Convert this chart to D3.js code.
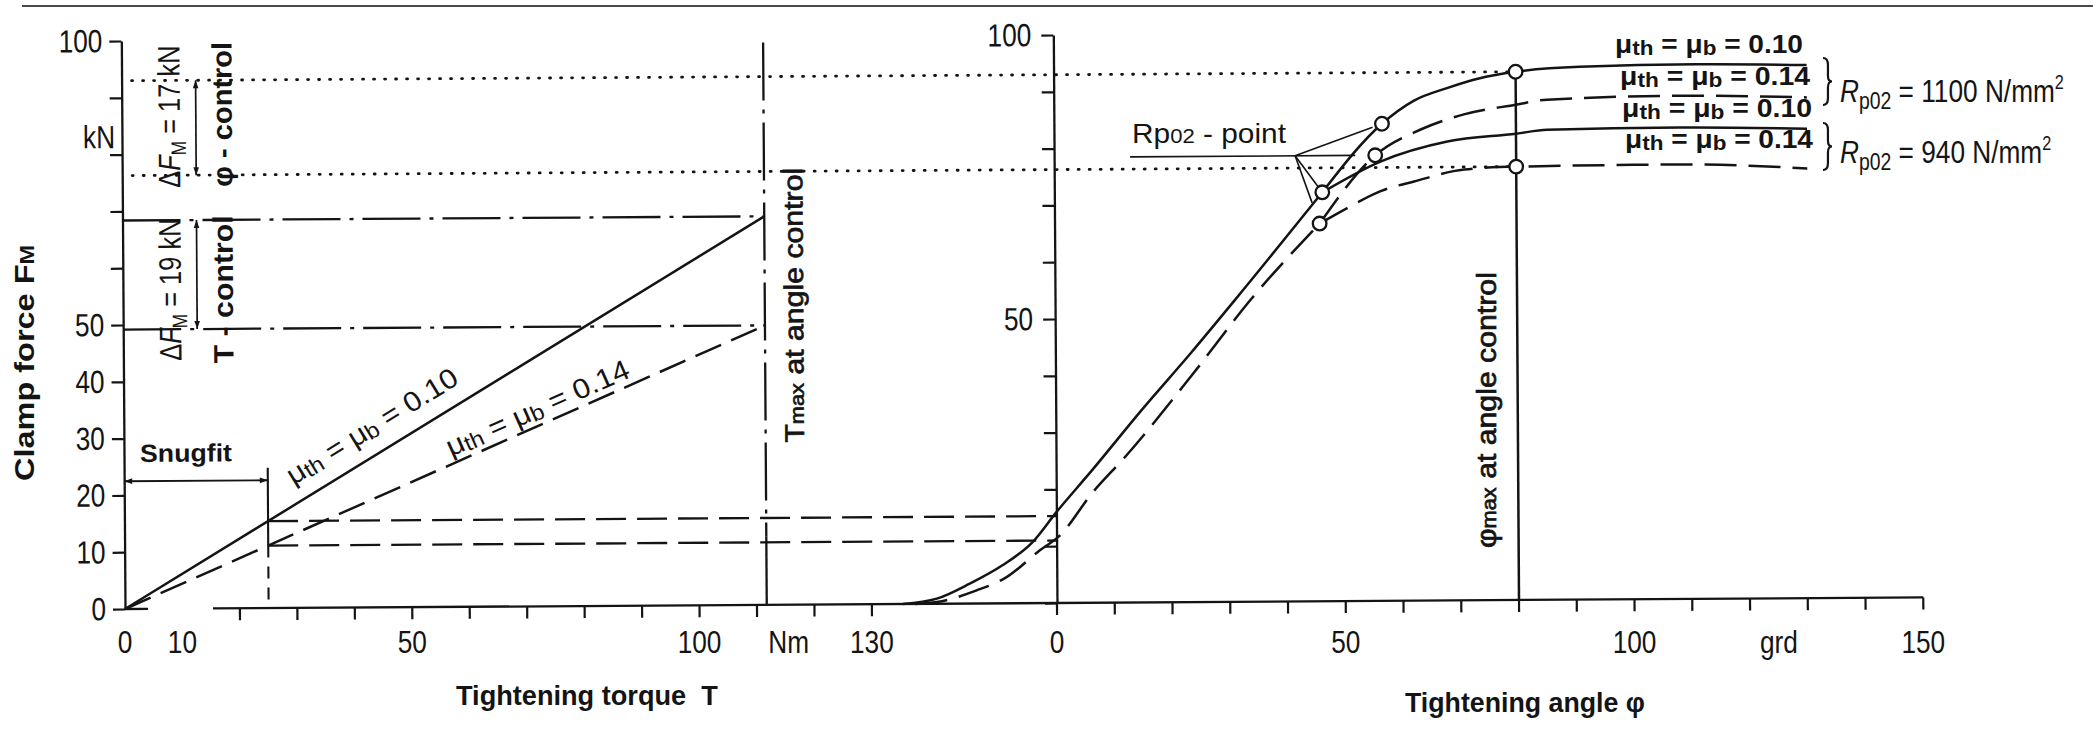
<!DOCTYPE html>
<html>
<head>
<meta charset="utf-8">
<title>Clamp force vs. tightening torque and tightening angle</title>
<script src="https://cdn.jsdelivr.net/npm/d3@7/dist/d3.min.js"></script>
<style>
  html, body { margin: 0; padding: 0; background: #fff; }
  svg { display: block; }
</style>
</head>
<body>
<svg id="chart" width="2093" height="729"></svg>
<script>
// ---------------- data ----------------
const forceTicks       = [0, 10, 20, 30, 40, 50, 60, 70, 80, 90, 100];
const forceLabelsLeft  = [0, 10, 20, 30, 40, 50, 100];
const forceLabelsRight = [50, 100];
const torqueTicks      = [20, 30, 40, 50, 60, 70, 80, 90, 100, 110, 120, 130];
const torqueLabels     = [["0", 0], ["10", 10], ["50", 50], ["100", 100], ["Nm", 115.5], ["130", 130]];
const angleTicks       = [0, 10, 20, 30, 40, 50, 60, 70, 80, 90, 100, 110, 120, 130, 140, 150];
const angleLabels      = [["0", 0], ["50", 50], ["100", 100], ["grd", 125], ["150", 150]];

const snugfitTorque   = 25;      // Nm
const tMaxTorque      = 111.7;   // Nm
const phiMaxAngle     = 80;      // grd
const torqueLine010   = [[0, 0], [111.7, 68.4]];
const torqueLine014   = [[0, 0], [111.7, 49.2]];
const snugfitForce    = [15.3, 11.0];   // kN at snug fit, mu = 0.10 / 0.14
const tControlForce   = [68.4, 49.2];   // kN at T max
const phiControlForce = [93.0, 76.3];   // kN at phi max

// angle-controlled tightening: [angle grd, clamp force kN]
const riseSolid  = [[-26.7, 0], [-20.8, 0.9], [-15.1, 3.5], [-9.4, 6.7], [-4.2, 10.7], [0, 16.0],
                    [6.2, 23.3], [14.9, 33.9], [23.5, 43.9], [31.2, 53.2], [46.4, 72.0]];
const riseDashed = [[-24.5, 0], [-20.8, 0.3], [-13.9, 2.3], [-8.7, 4.6], [-2.9, 9.3], [0.5, 11.8],
                    [6.2, 19.3], [12.1, 25.8], [23.5, 39.8], [33.9, 53.2], [45.9, 66.5]];
const yield1100Solid  = [[46.4, 72.0], [56.8, 84.0], [62.3, 88.0], [68.1, 90.2], [73.8, 91.9],
                         [80, 93.0], [91.1, 93.8], [111.3, 94.1], [130.4, 93.85]];
const yield1100Dashed = [[45.9, 66.5], [55.6, 78.45], [63.4, 82.9], [71.0, 85.55], [80, 87.2],
                         [85.4, 88.05], [108.4, 88.6], [130.4, 88.15]];
const yield940Solid   = [[46.4, 72.0], [56.5, 77.35], [68.1, 80.8], [80, 82.1], [85.4, 82.75],
                         [108.4, 83.0], [130.4, 82.65]];
const yield940Dashed  = [[45.9, 66.5], [50.7, 69.2], [56.5, 72.15], [62.3, 73.8], [71.0, 75.85],
                         [80, 76.3], [108.4, 76.5], [130.4, 75.65]];
const rp02Points   = [[56.8, 84.0], [55.6, 78.45], [46.4, 72.0], [45.9, 66.5]];
const phiMaxPoints = [[80, 93.0], [80, 76.3]];

const frictionLabels = ["0.10", "0.14", "0.10", "0.14"];
const yieldLabels    = ["1100", "940"];

// ---------------- setup ----------------
const INK = "#141414";
const SANS = "'Liberation Sans', Arial, Helvetica, sans-serif";
const NARROW = 0.82;   // horizontal squeeze for the condensed lettering
const svg = d3.select("#chart");

const y  = d3.scaleLinear().domain([0, 100]).range([609, 41]);
const xT = d3.scaleLinear().domain([0, 130]).range([125, 871.9]);
const xA = d3.scaleLinear().domain([0, 150]).range([1057, 1923.3]);

svg.append("defs").append("marker")
  .attr("id", "arrow").attr("viewBox", "0 0 10 10")
  .attr("refX", 10).attr("refY", 5)
  .attr("markerUnits", "userSpaceOnUse")
  .attr("markerWidth", 11).attr("markerHeight", 8)
  .attr("orient", "auto-start-reverse")
  .append("path").attr("d", "M0,1.5 L10,5 L0,8.5 Z").attr("fill", INK);

function addText(parent, o) {
  const t = parent.append("text")
    .attr("font-family", SANS)
    .attr("font-size", o.size)
    .attr("font-weight", o.weight || "normal")
    .attr("text-anchor", o.anchor || "start")
    .attr("fill", INK);
  if (o.halo) t.attr("stroke", INK).attr("stroke-width", o.halo);
  const parts = Array.isArray(o.text) ? o.text : [{ t: o.text }];
  parts.forEach(p => {
    const s = t.append("tspan").text(p.t);
    if (p.size) s.attr("font-size", p.size * o.size);
    if (p.dy) s.attr("dy", p.dy);
    if (p.italic) s.attr("font-style", "italic");
  });
  let sx = o.sx || 1;
  if (o.len) sx = o.len / t.node().getComputedTextLength();
  t.attr("transform", `translate(${o.x},${o.y}) rotate(${o.rot || 0}) scale(${sx},1)`);
  return t;
}
const mu = (val, s) => [{ t: "μ" }, { t: "th", size: s, dy: 2 }, { t: " = μ", dy: -2 },
                        { t: "b", size: s, dy: 2 }, { t: " = " + val, dy: -2 }];

// top rule
svg.append("line").attr("x1", 22).attr("x2", 2093).attr("y1", 6).attr("y2", 6)
  .attr("stroke", "#4a4a4a").attr("stroke-width", 2);

// the drawing sits with a very slight tilt
const g = svg.append("g").attr("transform", "rotate(-0.37,125,609)");

const lineStyle = (sel, w, dash) => sel.attr("fill", "none").attr("stroke", INK)
  .attr("stroke-width", w).attr("stroke-dasharray", dash || null);

// ---------------- axes ----------------
function yAxis(x0) {
  const ax = g.append("g").attr("transform", `translate(${x0},0)`)
    .call(d3.axisLeft(y).tickValues(forceTicks).tickSize(12).tickSizeOuter(0).tickFormat(""));
  ax.select(".domain").attr("stroke", INK).attr("stroke-width", 2.3);
  ax.selectAll(".tick line").attr("stroke", INK).attr("stroke-width", 2.2);
}
yAxis(xT(0));
yAxis(xA(0));

// baseline running under both panels
g.append("line").attr("x1", xT(0)).attr("x2", 148).attr("y1", y(0)).attr("y2", y(0))
  .attr("stroke", INK).attr("stroke-width", 2.3);
g.append("line").attr("x1", 213).attr("x2", xA(150)).attr("y1", y(0)).attr("y2", y(0))
  .attr("stroke", INK).attr("stroke-width", 2.3);
g.selectAll(".tq").data(torqueTicks).join("line")
  .attr("x1", d => xT(d)).attr("x2", d => xT(d)).attr("y1", y(0)).attr("y2", y(0) + 12)
  .attr("stroke", INK).attr("stroke-width", 2.2);
g.selectAll(".an").data(angleTicks).join("line")
  .attr("x1", d => xA(d)).attr("x2", d => xA(d)).attr("y1", y(0)).attr("y2", y(0) + 12)
  .attr("stroke", INK).attr("stroke-width", 2.2);

// force tick labels
forceLabelsLeft.forEach(v => addText(g, { x: xT(0) - 19, y: y(v) + 11, size: 32, sx: NARROW, anchor: "end", text: String(v) }));
forceLabelsRight.forEach(v => addText(g, { x: xA(0) - 22, y: y(v) + 11, size: 32, sx: NARROW, anchor: "end", text: String(v) }));
addText(g, { x: 86, y: 148, size: 32, sx: NARROW, text: "kN" });

// torque / angle tick labels (horizontal)
torqueLabels.forEach(([t, v]) => addText(svg, { x: xT(v), y: 653, size: 32, sx: NARROW, anchor: "middle", text: t }));
angleLabels.forEach(([t, v]) => addText(svg, { x: xA(v), y: 653, size: 32, sx: NARROW, anchor: "middle", text: t }));

// ---------------- control limits ----------------
phiControlForce.forEach(f => {
  g.append("line").attr("x1", 135).attr("x2", xA(phiMaxAngle) - 7).attr("y1", y(f)).attr("y2", y(f))
    .call(lineStyle, 2.8, "1,10").attr("stroke-linecap", "round");
});
tControlForce.forEach(f => {
  g.append("line").attr("x1", xT(0)).attr("x2", xT(tMaxTorque)).attr("y1", y(f)).attr("y2", y(f))
    .call(lineStyle, 2.3, "58,9,4,9");
});
// T max at angle control
g.append("line").attr("x1", xT(tMaxTorque)).attr("x2", xT(tMaxTorque)).attr("y1", y(99)).attr("y2", y(12))
  .call(lineStyle, 2.3, "58,9,4,9");
g.append("line").attr("x1", xT(tMaxTorque)).attr("x2", xT(tMaxTorque)).attr("y1", y(12)).attr("y2", y(0))
  .call(lineStyle, 2.3);
// phi max at angle control
g.append("line").attr("x1", xA(phiMaxAngle)).attr("x2", xA(phiMaxAngle)).attr("y1", y(phiControlForce[0]) + 6.5).attr("y2", y(0))
  .call(lineStyle, 2.5);

// Delta F arrows
g.append("line").attr("x1", 199).attr("x2", 199).attr("y1", y(phiControlForce[0])).attr("y2", y(phiControlForce[1]))
  .call(lineStyle, 1.7).attr("marker-start", "url(#arrow)").attr("marker-end", "url(#arrow)");
g.append("line").attr("x1", 199).attr("x2", 199).attr("y1", y(tControlForce[0])).attr("y2", y(tControlForce[1]))
  .call(lineStyle, 1.7).attr("marker-start", "url(#arrow)").attr("marker-end", "url(#arrow)");

// snug fit
g.append("line").attr("x1", xT(snugfitTorque)).attr("x2", xT(snugfitTorque)).attr("y1", y(24.7)).attr("y2", y(11))
  .call(lineStyle, 2.1);
g.append("line").attr("x1", xT(snugfitTorque)).attr("x2", xT(snugfitTorque)).attr("y1", y(11)).attr("y2", y(0))
  .call(lineStyle, 2.1, "12,9");
g.append("line").attr("x1", xT(0)).attr("x2", xT(snugfitTorque)).attr("y1", y(22.5)).attr("y2", y(22.5))
  .call(lineStyle, 1.9).attr("marker-start", "url(#arrow)").attr("marker-end", "url(#arrow)");
snugfitForce.forEach(f => {
  g.append("line").attr("x1", xT(snugfitTorque)).attr("x2", xA(0)).attr("y1", y(f)).attr("y2", y(f))
    .call(lineStyle, 2.3, "30,11");
});

// ---------------- torque lines ----------------
const tLine = d3.line().x(d => xT(d[0])).y(d => y(d[1]));
g.append("path").attr("d", tLine(torqueLine010)).call(lineStyle, 2.5);
g.append("path").attr("d", tLine(torqueLine014)).call(lineStyle, 2.5, "28,11");

// ---------------- angle curves ----------------
const aLine = d3.line().x(d => xA(d[0])).y(d => y(d[1])).curve(d3.curveMonotoneX);
g.append("path").attr("d", aLine(riseSolid)).call(lineStyle, 2.5);
g.append("path").attr("d", aLine(yield1100Solid)).call(lineStyle, 2.5);
g.append("path").attr("d", aLine(yield940Solid)).call(lineStyle, 2.5);
g.append("path").attr("d", aLine(riseDashed)).call(lineStyle, 2.5, "32,12");
g.append("path").attr("d", aLine(yield1100Dashed)).call(lineStyle, 2.5, "32,12");
g.append("path").attr("d", aLine(yield940Dashed)).call(lineStyle, 2.5, "32,12");

// Rp02 leader lines
const P = [1298, y(rp02Points[1][1])];
g.append("line").attr("x1", 1133).attr("x2", xA(rp02Points[1][0]) - 20).attr("y1", P[1]).attr("y2", P[1])
  .call(lineStyle, 1.7);
[[0, 10], [2, 7], [3, 22]].forEach(([i, gap]) => {
  const tx = xA(rp02Points[i][0]), ty = y(rp02Points[i][1]);
  const dx = tx - P[0], dy = ty - P[1], L = Math.hypot(dx, dy);
  g.append("line").attr("x1", P[0]).attr("y1", P[1])
    .attr("x2", tx - dx / L * gap).attr("y2", ty - dy / L * gap).call(lineStyle, 1.6);
});

g.selectAll(".pt").data(rp02Points.concat(phiMaxPoints)).join("circle")
  .attr("cx", d => xA(d[0])).attr("cy", d => y(d[1])).attr("r", 6.8)
  .attr("fill", "#fff").attr("stroke", INK).attr("stroke-width", 2.3);

// ---------------- texts ----------------
addText(svg, { x: 34, y: 363, rot: -90, size: 28, weight: "bold", anchor: "middle", len: 236,
  text: [{ t: "Clamp force F" }, { t: "M", size: 0.72 }] });

const dF = (v) => [{ t: "Δ" }, { t: "F", italic: true }, { t: "M", size: 0.68, dy: 6 }, { t: " = " + v + " kN", dy: -6 }];
addText(g, { x: 183, y: 117, rot: -90, size: 31, sx: NARROW, anchor: "middle", text: dF(17) });
addText(g, { x: 183, y: 290, rot: -90, size: 31, sx: NARROW, anchor: "middle", text: dF(19) });
addText(g, { x: 235, y: 115, rot: -90, size: 28, weight: "bold", anchor: "middle", len: 145, text: "φ - control" });
addText(g, { x: 235, y: 290, rot: -90, size: 28, weight: "bold", anchor: "middle", len: 148, text: "T - control" });

addText(g, { x: 141, y: 462, size: 25, weight: "bold", len: 92, text: "Snugfit" });

// labels along the torque lines
function alongLine(pts, t0, off, val, len) {
  const a = [xT(pts[0][0]), y(pts[0][1])], b = [xT(pts[1][0]), y(pts[1][1])];
  const ang = Math.atan2(b[1] - a[1], b[0] - a[0]);
  const f = t0 / pts[1][0];
  const px = a[0] + (b[0] - a[0]) * f, py = a[1] + (b[1] - a[1]) * f;
  addText(g, { x: px + Math.sin(ang) * off, y: py - Math.cos(ang) * off,
    rot: ang * 180 / Math.PI, size: 28, len: len, text: mu(val, 0.78) });
}
alongLine(torqueLine010, 31, 17, "0.10", 196);
alongLine(torqueLine014, 57.4, 7, "0.14", 198);

addText(g, { x: 805, y: 447, rot: -90, size: 27, halo: 0.7, len: 275,
  text: [{ t: "T" }, { t: "max", size: 0.72 }, { t: " at angle control" }] });
addText(svg, { x: 1496, y: 548, rot: -90, size: 27, halo: 0.7, len: 276,
  text: [{ t: "φ" }, { t: "max", size: 0.72 }, { t: " at angle control" }] });

addText(svg, { x: 456, y: 705, size: 27, weight: "bold", len: 262, text: "Tightening torque\u00A0\u00A0T" });
addText(svg, { x: 1405, y: 712, size: 27, weight: "bold", len: 240, text: "Tightening angle φ" });

addText(svg, { x: 1132, y: 143, size: 27, len: 154,
  text: [{ t: "Rp" }, { t: "02", size: 0.74 }, { t: " - point" }] });

// curve labels at the right end
const labelPos = [[1803, 53, 188], [1810, 85, 190], [1812, 117, 190], [1813, 148, 188]];
frictionLabels.forEach((v, i) => addText(svg, { x: labelPos[i][0], y: labelPos[i][1], size: 25,
  weight: "bold", anchor: "end", len: labelPos[i][2], text: mu(v, 0.8) }));

function brace(x, y0, y1) {
  const m = (y0 + y1) / 2, w = 9, c = x + w * 0.55;
  return `M${x},${y0} Q${c},${y0} ${c},${y0 + 7} L${c},${m - 6} Q${c},${m} ${x + w},${m}` +
         ` Q${c},${m} ${c},${m + 6} L${c},${y1 - 7} Q${c},${y1} ${x},${y1}`;
}
svg.append("path").attr("d", brace(1823, 58, 105)).call(lineStyle, 2.2);
svg.append("path").attr("d", brace(1823, 123, 170)).call(lineStyle, 2.2);

yieldLabels.forEach((v, i) => addText(svg, { x: 1840, y: [102, 163][i], size: 32, sx: NARROW,
  text: [{ t: "R", italic: true }, { t: "p02", size: 0.74, dy: 7 }, { t: " = " + v + " N/mm", dy: -7 },
         { t: "2", size: 0.62, dy: -13 }] }));
</script>
</body>
</html>
